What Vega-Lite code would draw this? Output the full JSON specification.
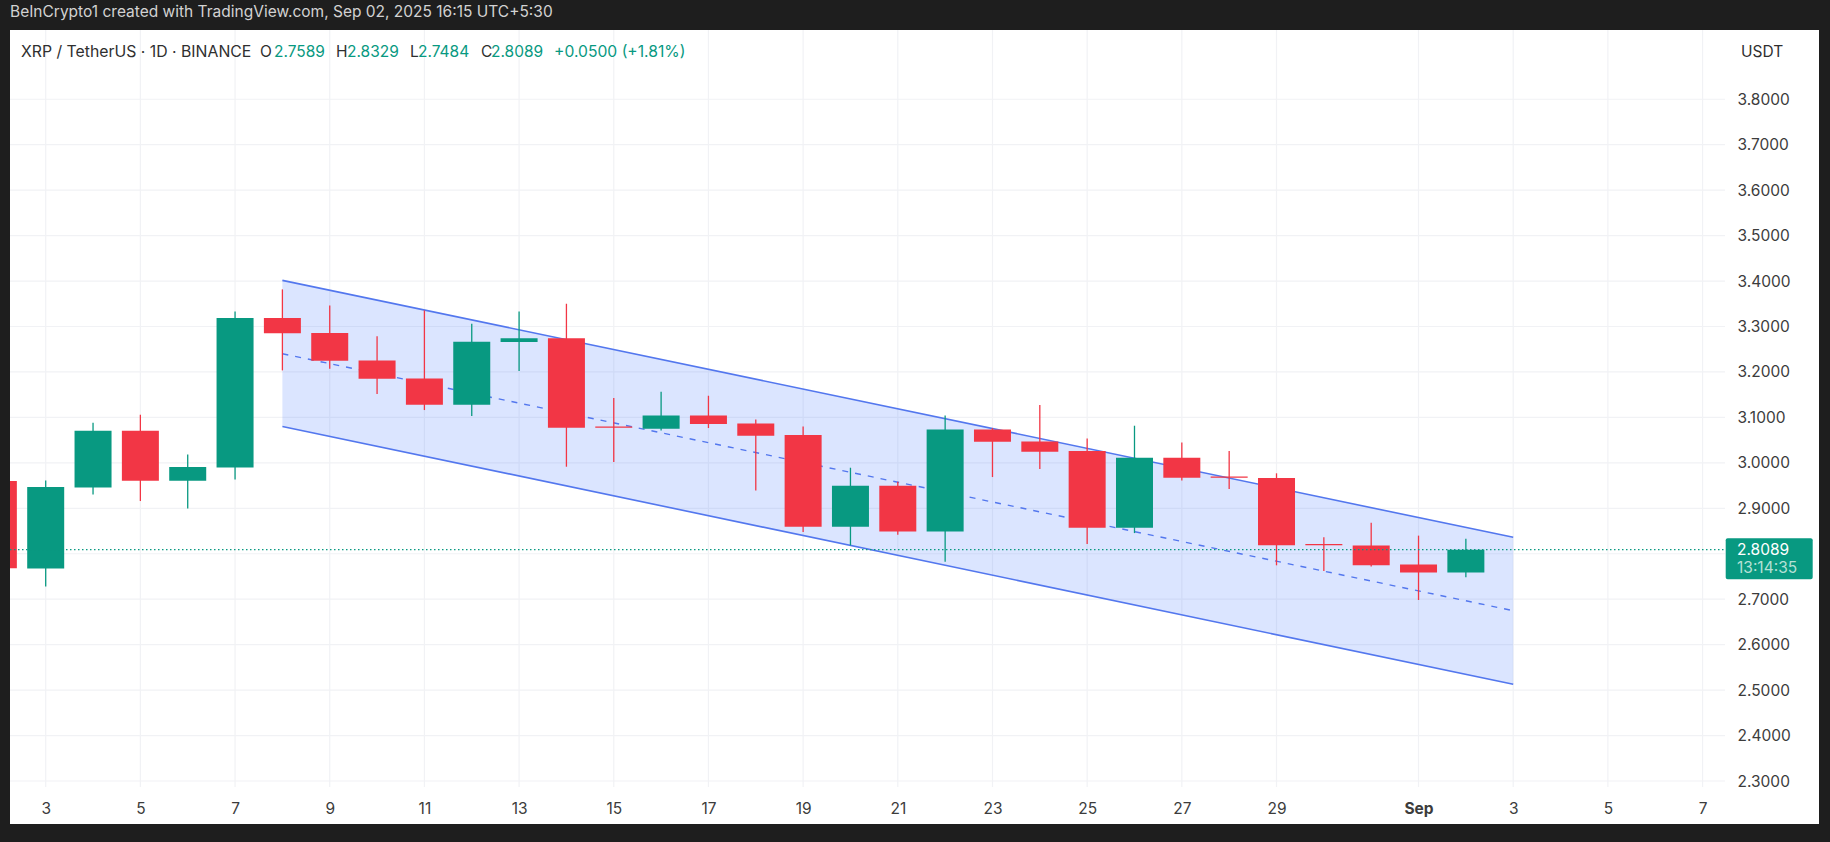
{"$schema":"https://vega.github.io/schema/vega-lite/v6.json","width":1809,"height":794,"autosize":{"type":"none"},"padding":{"left":10,"top":30,"right":11,"bottom":18},"background":"#1e1e1e","view":{"fill":"#ffffff","stroke":null},"title":{"text":"BeInCrypto1 created with TradingView.com, Sep 02, 2025 16:15 UTC+5:30","anchor":"start","frame":"group","offset":9,"font":"Inter","fontSize":15.5,"fontWeight":"normal","color":"#d2d2d2"},"config":{"font":"Inter"},"datasets":{"candles":[{"date":"2025-08-02T00:00:00Z","open":2.96,"high":2.99,"low":2.74,"close":2.768},{"date":"2025-08-03T00:00:00Z","open":2.7678,"high":2.9614,"low":2.7282,"close":2.9468},{"date":"2025-08-04T00:00:00Z","open":2.946,"high":3.0883,"low":2.9306,"close":3.0707},{"date":"2025-08-05T00:00:00Z","open":3.0707,"high":3.1059,"low":2.916,"close":2.9607},{"date":"2025-08-06T00:00:00Z","open":2.9607,"high":3.0186,"low":2.8998,"close":2.9908},{"date":"2025-08-07T00:00:00Z","open":2.99,"high":3.3333,"low":2.9636,"close":3.3186},{"date":"2025-08-08T00:00:00Z","open":3.3186,"high":3.3817,"low":3.2034,"close":3.2849},{"date":"2025-08-09T00:00:00Z","open":3.2856,"high":3.3465,"low":3.2071,"close":3.2247},{"date":"2025-08-10T00:00:00Z","open":3.2254,"high":3.2783,"low":3.1514,"close":3.1851},{"date":"2025-08-11T00:00:00Z","open":3.1858,"high":3.3355,"low":3.1162,"close":3.1279},{"date":"2025-08-12T00:00:00Z","open":3.1279,"high":3.3061,"low":3.103,"close":3.2665},{"date":"2025-08-13T00:00:00Z","open":3.2658,"high":3.3333,"low":3.202,"close":3.2739},{"date":"2025-08-14T00:00:00Z","open":3.2739,"high":3.3501,"low":2.9915,"close":3.0773},{"date":"2025-08-15T00:00:00Z","open":3.0802,"high":3.1426,"low":3.0018,"close":3.0773},{"date":"2025-08-16T00:00:00Z","open":3.0751,"high":3.1565,"low":3.0714,"close":3.1044},{"date":"2025-08-17T00:00:00Z","open":3.1044,"high":3.1477,"low":3.0766,"close":3.0854},{"date":"2025-08-18T00:00:00Z","open":3.0868,"high":3.0956,"low":2.9394,"close":3.0597},{"date":"2025-08-19T00:00:00Z","open":3.0612,"high":3.0802,"low":2.8477,"close":2.8595},{"date":"2025-08-20T00:00:00Z","open":2.8595,"high":2.9893,"low":2.8184,"close":2.9497},{"date":"2025-08-21T00:00:00Z","open":2.9497,"high":2.9585,"low":2.8419,"close":2.8492},{"date":"2025-08-22T00:00:00Z","open":2.8492,"high":3.1044,"low":2.7825,"close":3.0736},{"date":"2025-08-23T00:00:00Z","open":3.0736,"high":3.0766,"low":2.9688,"close":3.0465},{"date":"2025-08-24T00:00:00Z","open":3.0472,"high":3.1272,"low":2.9864,"close":3.0245},{"date":"2025-08-25T00:00:00Z","open":3.026,"high":3.0538,"low":2.8213,"close":2.8573},{"date":"2025-08-26T00:00:00Z","open":2.8573,"high":3.0817,"low":2.8455,"close":3.0113},{"date":"2025-08-27T00:00:00Z","open":3.0113,"high":3.045,"low":2.9614,"close":2.9673},{"date":"2025-08-28T00:00:00Z","open":2.9702,"high":3.026,"low":2.9424,"close":2.9673},{"date":"2025-08-29T00:00:00Z","open":2.9667,"high":2.977,"low":2.7746,"close":2.8186},{"date":"2025-08-30T00:00:00Z","open":2.8215,"high":2.8362,"low":2.7621,"close":2.8186},{"date":"2025-08-31T00:00:00Z","open":2.8179,"high":2.8685,"low":2.7717,"close":2.7746},{"date":"2025-09-01T00:00:00Z","open":2.7761,"high":2.8399,"low":2.6983,"close":2.7585},{"date":"2025-09-02T00:00:00Z","open":2.7589,"high":2.8329,"low":2.7484,"close":2.8089}],"channel":[{"date":"2025-08-08T00:00:00Z","upper":3.4015,"mid":3.2401,"lower":3.0802},{"date":"2025-09-03T00:00:00Z","upper":2.8362,"mid":2.6748,"lower":2.5128}],"prices":[{"p":2.3},{"p":2.4},{"p":2.5},{"p":2.6},{"p":2.7},{"p":2.8},{"p":2.9},{"p":3.0},{"p":3.1},{"p":3.2},{"p":3.3},{"p":3.4},{"p":3.5},{"p":3.6},{"p":3.7},{"p":3.8}],"ticks":[{"t":"2025-08-03T00:00:00Z"},{"t":"2025-08-05T00:00:00Z"},{"t":"2025-08-07T00:00:00Z"},{"t":"2025-08-09T00:00:00Z"},{"t":"2025-08-11T00:00:00Z"},{"t":"2025-08-13T00:00:00Z"},{"t":"2025-08-15T00:00:00Z"},{"t":"2025-08-17T00:00:00Z"},{"t":"2025-08-19T00:00:00Z"},{"t":"2025-08-21T00:00:00Z"},{"t":"2025-08-23T00:00:00Z"},{"t":"2025-08-25T00:00:00Z"},{"t":"2025-08-27T00:00:00Z"},{"t":"2025-08-29T00:00:00Z"},{"t":"2025-09-01T00:00:00Z"},{"t":"2025-09-03T00:00:00Z"},{"t":"2025-09-05T00:00:00Z"},{"t":"2025-09-07T00:00:00Z"}]},"layer":[{"data":{"name":"prices"},"mark":{"type":"rule","color":"#f1f2f5","strokeWidth":1.2},"encoding":{"y":{"field":"p","type":"quantitative","scale":{"domain":[2.2054,3.9524],"nice":false,"zero":false},"axis":{"orient":"right","offset":-94,"values":[2.3,2.4,2.5,2.6,2.7,2.9,3.0,3.1,3.2,3.3,3.4,3.5,3.6,3.7,3.8],"format":".4f","title":null,"grid":false,"domain":false,"ticks":false,"labelPadding":12,"labelAlign":"left","labelFont":"Inter","labelFontSize":15.5,"labelColor":"#3c3c3c","labelOverlap":false,"labelBound":false,"labelFlush":false}},"x":{"value":0},"x2":{"value":1715}}},{"data":{"name":"ticks"},"mark":{"type":"rule","color":"#f1f2f5","strokeWidth":1.2},"encoding":{"x":{"field":"t","type":"temporal","scale":{"type":"utc","domain":["2025-08-02T05:54:00Z","2025-09-09T11:02:00Z"],"nice":false,"padding":0},"axis":{"orient":"bottom","offset":-37,"values":["2025-08-03T00:00:00Z","2025-08-05T00:00:00Z","2025-08-07T00:00:00Z","2025-08-09T00:00:00Z","2025-08-11T00:00:00Z","2025-08-13T00:00:00Z","2025-08-15T00:00:00Z","2025-08-17T00:00:00Z","2025-08-19T00:00:00Z","2025-08-21T00:00:00Z","2025-08-23T00:00:00Z","2025-08-25T00:00:00Z","2025-08-27T00:00:00Z","2025-08-29T00:00:00Z","2025-09-01T00:00:00Z","2025-09-03T00:00:00Z","2025-09-05T00:00:00Z","2025-09-07T00:00:00Z"],"labelExpr":"utcdate(datum.value) == 1 ? 'Sep' : '' + utcdate(datum.value)","title":null,"grid":false,"domain":false,"ticks":false,"labelPadding":14,"labelFont":"Inter","labelFontSize":15.5,"labelColor":"#3c3c3c","labelFontWeight":{"condition":{"test":"utcdate(datum.value) == 1","value":"bold"},"value":"normal"},"labelOverlap":false,"labelBound":false,"labelFlush":false}},"y":{"value":0},"y2":{"value":757}}},{"data":{"name":"channel"},"mark":{"type":"area","color":"#2962ff","opacity":0.17,"clip":true},"encoding":{"x":{"field":"date","type":"temporal","scale":{"type":"utc","domain":["2025-08-02T05:54:00Z","2025-09-09T11:02:00Z"],"nice":false,"padding":0}},"y":{"field":"upper","type":"quantitative","scale":{"domain":[2.2054,3.9524],"nice":false,"zero":false}},"y2":{"field":"lower"}}},{"data":{"name":"channel"},"mark":{"type":"line","color":"#5377ee","strokeWidth":1.6,"clip":true},"encoding":{"x":{"field":"date","type":"temporal","scale":{"type":"utc","domain":["2025-08-02T05:54:00Z","2025-09-09T11:02:00Z"],"nice":false,"padding":0}},"y":{"field":"upper","type":"quantitative","scale":{"domain":[2.2054,3.9524],"nice":false,"zero":false}}}},{"data":{"name":"channel"},"mark":{"type":"line","color":"#5377ee","strokeWidth":1.6,"clip":true},"encoding":{"x":{"field":"date","type":"temporal","scale":{"type":"utc","domain":["2025-08-02T05:54:00Z","2025-09-09T11:02:00Z"],"nice":false,"padding":0}},"y":{"field":"lower","type":"quantitative","scale":{"domain":[2.2054,3.9524],"nice":false,"zero":false}}}},{"data":{"name":"channel"},"mark":{"type":"line","color":"#5377ee","strokeWidth":1.4,"strokeDash":[6,7],"clip":true},"encoding":{"x":{"field":"date","type":"temporal","scale":{"type":"utc","domain":["2025-08-02T05:54:00Z","2025-09-09T11:02:00Z"],"nice":false,"padding":0}},"y":{"field":"mid","type":"quantitative","scale":{"domain":[2.2054,3.9524],"nice":false,"zero":false}}}},{"data":{"name":"candles"},"mark":{"type":"rule","strokeWidth":1.3,"clip":true},"encoding":{"x":{"field":"date","type":"temporal","scale":{"type":"utc","domain":["2025-08-02T05:54:00Z","2025-09-09T11:02:00Z"],"nice":false,"padding":0}},"y":{"field":"low","type":"quantitative","scale":{"domain":[2.2054,3.9524],"nice":false,"zero":false}},"y2":{"field":"high"},"color":{"condition":{"test":"datum.close >= datum.open","value":"#089981"},"value":"#f23645"}}},{"data":{"name":"candles"},"mark":{"type":"bar","size":37,"clip":true},"encoding":{"x":{"field":"date","type":"temporal","scale":{"type":"utc","domain":["2025-08-02T05:54:00Z","2025-09-09T11:02:00Z"],"nice":false,"padding":0}},"y":{"field":"open","type":"quantitative","scale":{"domain":[2.2054,3.9524],"nice":false,"zero":false}},"y2":{"field":"close"},"color":{"condition":{"test":"datum.close >= datum.open","value":"#089981"},"value":"#f23645"}}},{"data":{"values":[{"last":2.8089}]},"mark":{"type":"rule","color":"#089981","strokeWidth":1.2,"strokeDash":[1.5,2.5]},"encoding":{"y":{"field":"last","type":"quantitative","scale":{"domain":[2.2054,3.9524],"nice":false,"zero":false}},"x":{"value":0},"x2":{"value":1715}}},{"data":{"values":[{"last":2.8089}]},"mark":{"type":"rect","color":"#089981","cornerRadius":2,"x":1715.7,"x2":1802.7,"y":508.3,"y2":549.3}},{"data":{"values":[{"t":"2.8089"}]},"mark":{"type":"text","x":1727,"y":519.5,"align":"left","baseline":"middle","font":"Inter","fontSize":15.5,"color":"#ffffff"},"encoding":{"text":{"field":"t"}}},{"data":{"values":[{"t":"13:14:35"}]},"mark":{"type":"text","x":1727,"y":538,"align":"left","baseline":"middle","font":"Inter","fontSize":15.5,"color":"#b5e0d6"},"encoding":{"text":{"field":"t"}}},{"data":{"values":[{"t":"USDT"}]},"mark":{"type":"text","x":1731,"y":22,"align":"left","baseline":"middle","font":"Inter","fontSize":15.5,"color":"#2f2f2f"},"encoding":{"text":{"field":"t"}}},{"data":{"values":[{"t":"XRP / TetherUS · 1D · BINANCE"}]},"mark":{"type":"text","x":11,"y":22,"align":"left","baseline":"middle","font":"Inter","fontSize":15.8,"color":"#2f2f2f"},"encoding":{"text":{"field":"t"}}},{"data":{"values":[{"t":"O"}]},"mark":{"type":"text","x":250,"y":22,"align":"left","baseline":"middle","font":"Inter","fontSize":15.5,"color":"#2f2f2f"},"encoding":{"text":{"field":"t"}}},{"data":{"values":[{"t":"2.7589"}]},"mark":{"type":"text","x":264,"y":22,"align":"left","baseline":"middle","font":"Inter","fontSize":15.5,"color":"#089981"},"encoding":{"text":{"field":"t"}}},{"data":{"values":[{"t":"H"}]},"mark":{"type":"text","x":326,"y":22,"align":"left","baseline":"middle","font":"Inter","fontSize":15.5,"color":"#2f2f2f"},"encoding":{"text":{"field":"t"}}},{"data":{"values":[{"t":"2.8329"}]},"mark":{"type":"text","x":337,"y":22,"align":"left","baseline":"middle","font":"Inter","fontSize":15.5,"color":"#089981"},"encoding":{"text":{"field":"t"}}},{"data":{"values":[{"t":"L"}]},"mark":{"type":"text","x":400,"y":22,"align":"left","baseline":"middle","font":"Inter","fontSize":15.5,"color":"#2f2f2f"},"encoding":{"text":{"field":"t"}}},{"data":{"values":[{"t":"2.7484"}]},"mark":{"type":"text","x":408,"y":22,"align":"left","baseline":"middle","font":"Inter","fontSize":15.5,"color":"#089981"},"encoding":{"text":{"field":"t"}}},{"data":{"values":[{"t":"C"}]},"mark":{"type":"text","x":471,"y":22,"align":"left","baseline":"middle","font":"Inter","fontSize":15.5,"color":"#2f2f2f"},"encoding":{"text":{"field":"t"}}},{"data":{"values":[{"t":"2.8089"}]},"mark":{"type":"text","x":481,"y":22,"align":"left","baseline":"middle","font":"Inter","fontSize":15.5,"color":"#089981"},"encoding":{"text":{"field":"t"}}},{"data":{"values":[{"t":"+0.0500 (+1.81%)"}]},"mark":{"type":"text","x":544,"y":22,"align":"left","baseline":"middle","font":"Inter","fontSize":15.7,"color":"#089981"},"encoding":{"text":{"field":"t"}}}]}
